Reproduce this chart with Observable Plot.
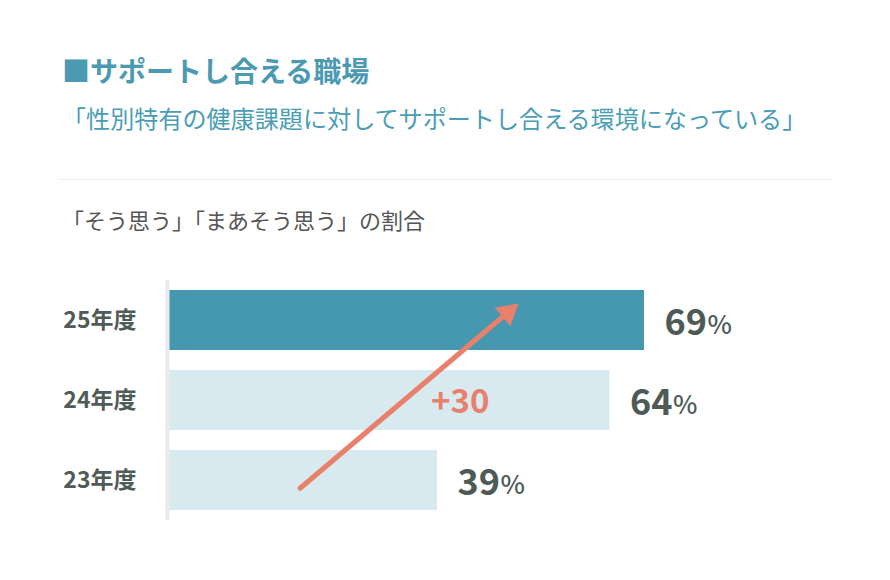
<!DOCTYPE html>
<html><head><meta charset="utf-8">
<script src="https://cdn.jsdelivr.net/npm/d3@7"></script>
<script src="https://cdn.jsdelivr.net/npm/@observablehq/plot@0.6"></script>
<style>
body{margin:0;background:#fff;font-family:"Noto Sans CJK JP","Noto Sans",sans-serif;}
#wrap{position:relative;width:890px;height:580px;overflow:hidden;}
.t{position:absolute;left:62px;line-height:1;white-space:nowrap;}
#title{top:56px;font-size:28px;font-weight:700;color:#4b9ab2;}
#sub{top:106px;font-size:24.1px;color:#4a9db6;}
#rule{position:absolute;left:60px;top:179px;width:772px;height:1px;background:#ededed;}
#note{top:208px;font-size:22px;color:#555;}
#chart{position:absolute;left:0;top:260px;}
</style></head>
<body><div id="wrap">
<div class="t" id="title">■サポートし合える職場</div>
<div class="t" id="sub">「性別特有の健康課題に対してサポートし合える環境になっている」</div>
<div id="rule"></div>
<div class="t" id="note">「そう思う」「まあそう思う」の割合</div>
<div id="chart"></div>
</div>
<script>
const years = ["25年度", "24年度", "23年度"];
const values = [69, 64, 39];
const highlightYear = "25年度";
const changeLabel = "+30";
const changeLabelX = 42.3;
const changeLabelYear = "24年度";
const arrowX = [20.4, 47.8];
const arrowYears = ["23年度", "25年度"];
const arrowHeadX = 49.2;

const data = years.map((y, i) => ({year: y, value: values[i]}));
const arrowData = [{x1: arrowX[0], y1: arrowYears[0], x2: arrowX[1], y2: arrowYears[1]}];
const headData = [{x: arrowHeadX, year: arrowYears[1]}];
const font = '"Noto Sans CJK JP","Noto Sans",sans-serif';

const chart = Plot.plot({
  width: 890, height: 280,
  marginTop: 20, marginBottom: 20, marginLeft: 168, marginRight: 246,
  style: {fontFamily: font, background: "transparent"},
  x: {domain: [0, 69], axis: null},
  y: {domain: years, paddingInner: 0.25, paddingOuter: 0.125, axis: null},
  marks: [
    Plot.axisY({tickSize: 0, tickPadding: 32, fontSize: 23, fontWeight: 700, fill: "#4f5b56", label: null}),
    Plot.barX(data.filter(d => d.year !== highlightYear), {x: "value", y: "year", fill: "#d8e9ef"}),
    Plot.barX(data.filter(d => d.year === highlightYear), {x: "value", y: "year", fill: "#4598b0"}),
    Plot.ruleX([0], {stroke: "#ebebeb", strokeWidth: 4, dx: -1}),
    Plot.arrow(arrowData, {x1: "x1", y1: "y1", x2: "x2", y2: "y2", stroke: "#e8806b", strokeWidth: 5, headLength: 0, insetStart: -12, insetEnd: -12}),
    Plot.dot(headData, {x: "x", y: "year", symbol: "triangle", r: 9, rotate: 49.7, dy: -8, fill: "#e8806b", stroke: "none"}),
    Plot.text(data, {x: "value", y: "year", text: d => String(d.value), dx: 20, dy: 3, textAnchor: "start", fontSize: 36, fontWeight: 700, fill: "#4d5a55"}),
    Plot.text(data, {x: "value", y: "year", text: d => "%", dx: 63, dy: 5, textAnchor: "start", fontSize: 26, fontWeight: 500, fill: "#4d5a55"}),
    Plot.text([{x: changeLabelX, year: changeLabelYear}], {x: "x", y: "year", text: d => changeLabel, dy: 2, textAnchor: "middle", fontSize: 33, fontWeight: 700, fill: "#e8806b"})
  ]
});
document.getElementById("chart").appendChild(chart);
</script>
</body></html>
